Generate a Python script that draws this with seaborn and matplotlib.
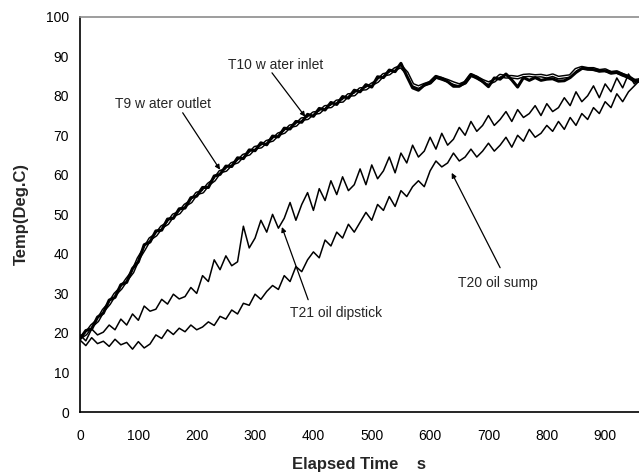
import numpy as np
import pandas as pd
import matplotlib
matplotlib.use("Agg")
import matplotlib.pyplot as plt
import matplotlib.patheffects as pe
from matplotlib.ticker import MultipleLocator
import seaborn as sns

# ---- data ----
time_s = list(range(0, 961, 10))

t10_water_inlet = [18.5, 20.6, 21.0, 24.0, 25.0, 28.3, 29.0, 32.2, 32.8, 36.3,
                   38.0, 42.3, 43.0, 45.8, 46.0, 48.8, 49.0, 51.4, 51.6, 54.2,
                   54.6, 56.8, 56.8, 59.7, 60.1, 62.2, 62.1, 64.3, 64.1, 66.3,
                   66.1, 68.1, 67.6, 69.8, 69.6, 71.8, 71.6, 73.5, 73.3, 75.3,
                   74.8, 76.8, 76.4, 78.3, 77.8, 79.8, 79.4, 81.4, 81.0, 82.8,
                   82.2, 84.8, 84.6, 86.5, 86.1, 88.2, 85.0, 82.0, 81.4, 82.7,
                   83.4, 84.7, 84.4, 83.6, 82.4, 82.4, 83.4, 85.2, 84.7, 83.6,
                   82.3, 84.5, 84.2, 85.5, 84.0, 82.2, 84.6, 83.9, 84.6, 83.9,
                   84.2, 84.3, 83.7, 83.8, 84.6, 85.9, 86.9, 86.9, 86.6, 86.4,
                   86.3, 85.9, 85.9, 85.4, 84.6, 83.9, 83.6]

t9_water_outlet = [18.8, 19.8, 21.8, 23.1, 25.7, 27.4, 29.8, 31.3, 33.5, 35.4,
                   38.8, 41.2, 43.8, 44.8, 46.8, 47.7, 49.8, 50.4, 52.3, 53.2,
                   55.3, 55.7, 57.6, 58.7, 60.8, 61.2, 62.8, 63.3, 64.9, 65.3,
                   66.9, 67.1, 68.4, 68.8, 70.3, 70.8, 72.3, 72.6, 74.1, 74.3,
                   75.6, 75.8, 77.2, 77.3, 78.6, 78.7, 80.2, 80.3, 81.7, 81.8,
                   82.9, 83.7, 85.3, 85.6, 86.8, 87.4, 85.8, 82.8, 82.2, 82.8,
                   83.3, 84.8, 84.3, 83.8, 83.2, 82.7, 83.3, 85.3, 84.6, 83.8,
                   83.2, 83.8, 85.1, 84.8, 84.8, 84.6, 85.1, 85.2, 85.0, 85.1,
                   84.8, 85.2, 84.6, 84.8, 85.0, 86.6, 87.1, 86.8, 86.8, 86.3,
                   86.5, 85.8, 86.0, 85.3, 84.8, 83.8, 84.0]

t21_oil_dipstick = [19.5, 18.0, 21.0, 19.5, 20.2, 22.0, 20.8, 23.5, 22.0, 24.8,
                    23.2, 26.8, 25.5, 26.0, 28.5, 27.3, 29.8, 28.6, 29.2, 31.5,
                    30.0, 34.5, 33.0, 38.5, 36.0, 39.5, 37.0, 38.0, 47.0, 41.5,
                    44.0, 48.5, 45.5, 50.0, 46.5, 49.0, 53.0, 48.5, 52.5, 55.5,
                    51.0, 56.5, 53.5, 58.5, 55.0, 59.5, 56.0, 57.5, 61.5, 57.5,
                    62.5, 59.0, 61.0, 64.5, 60.5, 65.5, 63.0, 67.5, 64.5, 66.0,
                    69.5, 66.5, 70.5, 67.5, 69.0, 72.0, 70.0, 73.5, 71.0, 72.5,
                    75.0, 72.5, 74.0, 76.0, 73.5, 76.5, 74.5, 75.5, 77.5, 75.0,
                    78.0, 76.0, 77.0, 79.5, 77.5, 81.0, 78.5, 80.0, 82.5, 79.5,
                    83.0, 81.0, 84.5, 82.0, 85.5, 83.0, 84.5]

t20_oil_sump = [18.2, 16.8, 18.8, 17.3, 17.9, 16.6, 18.4, 17.0, 17.6, 15.9,
                17.8, 16.2, 17.2, 19.5, 18.6, 20.8, 19.6, 21.2, 20.3, 22.0,
                20.8, 21.5, 22.8, 21.9, 24.2, 23.5, 25.8, 24.8, 27.5, 27.0,
                29.8, 28.5, 30.5, 32.0, 31.0, 34.5, 33.0, 36.8, 35.5, 38.5,
                40.5, 39.0, 43.5, 42.0, 45.5, 44.0, 47.5, 45.5, 48.0, 50.5,
                48.5, 52.5, 51.0, 54.5, 52.0, 56.0, 54.5, 57.0, 58.5, 57.0,
                61.0, 63.5, 62.0, 63.0, 65.5, 63.5, 64.5, 66.5, 64.5, 66.0,
                68.0, 66.0, 67.5, 69.5, 67.0, 70.0, 68.5, 71.5, 69.5, 70.5,
                72.5, 71.0, 73.5, 71.5, 74.5, 72.5, 75.5, 74.0, 77.0, 75.5,
                78.5, 77.0, 80.5, 78.5, 81.0, 82.5, 84.0]

x_ticks = [0, 100, 200, 300, 400, 500, 600, 700, 800, 900]
y_ticks = [0, 10, 20, 30, 40, 50, 60, 70, 80, 90, 100]

df = pd.DataFrame({
    "time": time_s * 4,
    "temp": t10_water_inlet + t9_water_outlet + t21_oil_dipstick + t20_oil_sump,
    "series": (["T10"] * len(time_s) + ["T9"] * len(time_s)
               + ["T21"] * len(time_s) + ["T20"] * len(time_s)),
})

# ---- plotting ----
sns.set_style("white")
plt.rcParams["font.family"] = ["Liberation Sans", "DejaVu Sans"]

fig = plt.figure(figsize=(6.39, 4.75), dpi=100)
ax = fig.add_axes([80 / 639, 63 / 475, 559 / 639, 395.3 / 475])

sns.lineplot(data=df[df.series == "T9"], x="time", y="temp", ax=ax,
             color="black", lw=2.8, estimator=None, sort=False,
             path_effects=[pe.Stroke(linewidth=2.8, foreground="black"),
                           pe.Stroke(linewidth=0.7, foreground="white")])
sns.lineplot(data=df[df.series == "T10"], x="time", y="temp", ax=ax,
             color="black", lw=2.2, estimator=None, sort=False)
sns.lineplot(data=df[df.series == "T21"], x="time", y="temp", ax=ax,
             color="black", lw=1.1, estimator=None, sort=False)
sns.lineplot(data=df[df.series == "T20"], x="time", y="temp", ax=ax,
             color="black", lw=1.1, estimator=None, sort=False)

ax.set_xlim(0, 958)
ax.set_ylim(0, 100)
ax.set_xticks(x_ticks)
ax.xaxis.set_minor_locator(MultipleLocator(50))
ax.set_yticks(y_ticks)
ax.tick_params(axis="both", which="both", direction="inout", length=6,
               width=1, color="black", labelsize=10, labelcolor="black")
ax.tick_params(axis="x", which="both", pad=9)
ax.tick_params(axis="y", pad=5)
ax.tick_params(axis="x", which="minor", length=6)

for s in ["left", "bottom"]:
    ax.spines[s].set_color("black")
    ax.spines[s].set_linewidth(1.2)
ax.spines["top"].set_color("#8c8c8c")
ax.spines["top"].set_linewidth(1.2)
ax.spines["right"].set_visible(False)

ax.set_xlabel("Elapsed Time    s", fontsize=12, fontweight="bold", labelpad=10)
ax.set_ylabel("Temp(Deg.C)", fontsize=12, fontweight="bold", labelpad=12)

arrow_kw = dict(arrowstyle="-|>", color="black", lw=0.9, mutation_scale=7,
                shrinkA=0, shrinkB=0)

ax.text(254, 87.8, "T10 w ater inlet", fontsize=10, ha="left", va="center")
ax.annotate("", xy=(386, 74.7), xytext=(329, 85.8), arrowprops=arrow_kw)

ax.text(60, 78.0, "T9 w ater outlet", fontsize=10, ha="left", va="center")
ax.annotate("", xy=(240, 61.3), xytext=(176, 75.7), arrowprops=arrow_kw)

ax.text(360, 25.0, "T21 oil dipstick", fontsize=10, ha="left", va="center")
ax.annotate("", xy=(346, 46.8), xytext=(391, 28.4), arrowprops=arrow_kw)

ax.text(648, 32.7, "T20 oil sump", fontsize=10, ha="left", va="center")
ax.annotate("", xy=(637, 60.5), xytext=(720, 36.5), arrowprops=arrow_kw)

fig.savefig("out.png", dpi=100)
